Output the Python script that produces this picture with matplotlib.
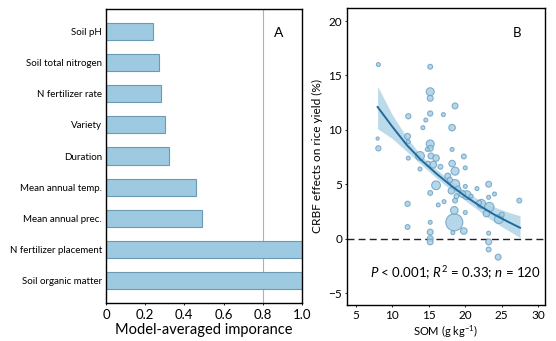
import matplotlib.pyplot as plt
import numpy as np

plt.rcParams['font.family'] = 'Lato'
plt.rcParams['mathtext.fontset'] = 'custom'
plt.rcParams['mathtext.rm'] = 'Lato'
plt.rcParams['mathtext.it'] = 'Lato:italic'

# Panel A: model-averaged importance (top to bottom)
factors = ['Soil pH', 'Soil total nitrogen', 'N fertilizer rate', 'Variety',
           'Duration', 'Mean annual temp.', 'Mean annual prec.',
           'N fertilizer placement', 'Soil organic matter']
importance = [0.24, 0.27, 0.28, 0.30, 0.32, 0.46, 0.49, 1.0, 1.0]

# Panel B: CRBF effect vs SOM, bubble size = weight
som = [8.1, 8.0, 8.1, 15.2, 15.2, 15.2, 15.2, 12.2, 17.0, 18.6, 14.6, 14.2,
       18.2, 12.1, 12.2, 15.2, 15.2, 18.2, 14.8, 12.2, 13.8, 15.3, 16.0, 19.8,
       13.8, 15.6, 18.2, 20.0, 18.6, 17.6, 16.0, 15.2, 18.6, 18.1, 20.0, 21.6,
       23.2, 24.0, 23.2, 20.2, 22.2, 23.3, 22.9, 24.6, 27.4, 12.1, 12.1, 16.3,
       17.1, 18.5, 18.5, 18.6, 20.0, 19.8, 18.3, 15.2, 15.2, 15.2, 15.2, 23.2,
       23.2, 23.2, 24.5, 20.8, 19.6, 17.9, 14.9, 16.6, 19.0, 21.9, 25.0, 18.8]
effect = [16.0, 9.2, 8.3, 15.8, 13.5, 12.9, 11.5, 11.25, 11.4, 12.2, 10.9, 10.2,
          10.2, 9.4, 8.9, 8.7, 8.3, 8.2, 8.2, 7.4, 7.6, 7.6, 7.4, 7.55,
          6.4, 6.8, 6.9, 6.5, 6.2, 5.75, 4.9, 4.2, 5.0, 4.4, 4.8, 4.6,
          5.0, 4.1, 3.8, 4.0, 3.2, 2.9, 2.3, 1.8, 3.5, 3.2, 1.07, 3.1,
          3.4, 1.5, 2.6, 3.5, 2.4, 0.7, 0.55, 1.5, 0.6, 0.0, -0.3, 0.5,
          -0.3, -1.0, -1.7, 3.9, 4.1, 5.4, 6.9, 6.6, 4.6, 3.3, 2.2, 3.9]
weight = [8, 5, 14, 12, 33, 18, 14, 14, 8, 18, 8, 8,
          22, 18, 8, 33, 18, 8, 8, 8, 40, 18, 22, 12,
          8, 25, 22, 8, 33, 18, 40, 12, 45, 22, 8, 8,
          18, 8, 8, 40, 40, 45, 22, 40, 12, 14, 12, 8,
          8, 150, 30, 12, 8, 22, 8, 8, 18, 18, 18, 8,
          18, 12, 18, 8, 22, 14, 12, 12, 14, 12, 12, 12]

# fitted curve and 95% band
fit_x = [8.0, 10.0, 12.0, 14.0, 16.0, 18.0, 20.0, 22.0, 24.0, 26.0, 27.5]
fit_y = [12.1, 10.3, 8.6, 7.2, 6.0, 4.9, 3.9, 3.0, 2.2, 1.5, 1.0]
fit_lo = [10.1, 9.2, 8.0, 6.8, 5.6, 4.5, 3.5, 2.5, 1.5, 0.7, 0.1]
fit_hi = [14.0, 11.4, 9.3, 7.6, 6.4, 5.3, 4.4, 3.5, 2.9, 2.4, 2.1]

fig = plt.figure(figsize=(5.56, 3.41), dpi=100)

# ---- A ----
axA = fig.add_axes([0.1906, 0.1114, 0.3525, 0.862])
ypos = np.arange(len(factors))
axA.barh(ypos, importance, height=0.55, color='#9ecae1', edgecolor='#6a9ab5',
         linewidth=0.8)
axA.axvline(0.8, color='#b0b0b0', linewidth=0.8, zorder=0)
axA.set_xlim(0, 1)
axA.set_ylim(len(factors) - 0.28, -0.72)
axA.set_yticks(ypos)
axA.set_yticklabels(factors, fontsize=7)
axA.set_xticks([0, 0.2, 0.4, 0.6, 0.8, 1.0])
axA.set_xticklabels(['0', '0.2', '0.4', '0.6', '0.8', '1.0'], fontsize=9.5)
axA.tick_params(axis='y', length=0, pad=3)
axA.tick_params(axis='x', length=1.5, width=0.6, pad=3)
axA.set_xlabel('Model-averaged imporance', fontsize=10.5, labelpad=1)
axA.text(0.88, 0.92, 'A', transform=axA.transAxes, fontsize=10,
         ha='center', va='center')
for s in axA.spines.values():
    s.set_linewidth(1.0)

# ---- B ----
axB = fig.add_axes([0.624, 0.1056, 0.356, 0.871])
axB.fill_between(fit_x, fit_lo, fit_hi, color='#8fc3df', alpha=0.6,
                 linewidth=0, zorder=1)
axB.scatter(som, effect, s=weight, facecolor='#a9d1e7', edgecolor='#6fa3c3',
            linewidth=0.8, alpha=0.85, zorder=2)
axB.plot(fit_x, fit_y, color='#236a9a', linewidth=1.4, zorder=3)
axB.axhline(0, color='#222222', linewidth=1.0, linestyle=(0, (5, 3)), zorder=0)
axB.set_xlim(3.8, 30.9)
axB.set_ylim(-6.1, 21.2)
axB.set_xticks([5, 10, 15, 20, 25, 30])
axB.set_yticks([-5, 0, 5, 10, 15, 20])
axB.tick_params(length=1.5, width=0.6, labelsize=8.5, pad=2)
axB.set_xlabel('SOM (g kg$^{-1}$)', fontsize=8, labelpad=2)
axB.set_ylabel('CRBF effects on rice yield (%)', fontsize=8.6, labelpad=4)
axB.text(0.86, 0.916, 'B', transform=axB.transAxes, fontsize=9.5,
         ha='center', va='center')
axB.text(18.6, -3.2, r'$\it{P}$ < 0.001; $\it{R}^2$ = 0.33; $\it{n}$ = 120',
         fontsize=9.5, ha='center', va='center')
for s in axB.spines.values():
    s.set_linewidth(1.0)

fig.savefig('out.png', dpi=100, facecolor='white')
